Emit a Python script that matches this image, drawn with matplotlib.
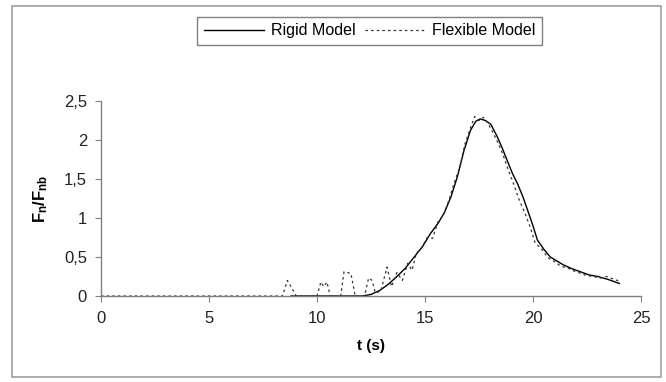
#!/usr/bin/env python3
"""Normal force ratio Fn/Fnb over time for the rigid and flexible models."""

import matplotlib
matplotlib.use('Agg')
import matplotlib.pyplot as plt
from matplotlib.patches import Rectangle

# Rigid model (solid line)
rigid_t = [8.8, 10.0, 11.0, 12.1, 12.5, 12.9, 13.3, 13.7, 14.1, 14.5, 14.9,
           15.25, 15.6, 15.9, 16.2, 16.5, 16.8, 17.1, 17.35, 17.55, 17.8,
           18.05, 18.35, 18.6, 18.8, 19.05, 19.3, 19.55, 19.75, 20.0, 20.2,
           20.5, 20.8, 21.1, 21.4, 21.8, 22.2, 22.6, 23.0, 23.5, 24.0]
rigid_y = [0.0, 0.0, 0.0, 0.0, 0.02, 0.07, 0.15, 0.25, 0.36, 0.50, 0.64,
           0.80, 0.93, 1.07, 1.27, 1.53, 1.86, 2.12, 2.24, 2.27, 2.25,
           2.20, 2.04, 1.88, 1.74, 1.57, 1.43, 1.26, 1.10, 0.90, 0.72,
           0.60, 0.50, 0.45, 0.40, 0.35, 0.31, 0.27, 0.25, 0.21, 0.16]

# Flexible model (dotted line)
flex_t = [0.0, 8.4, 8.63, 9.04, 10.0, 10.18, 10.32, 10.46, 10.61, 11.1,
          11.25, 11.57, 11.77, 12.2, 12.39, 12.55, 12.7, 12.95, 13.24, 13.45,
          13.7, 13.95, 14.2, 14.4, 14.6, 14.85, 15.1, 15.35, 15.6, 15.85,
          16.1, 16.35, 16.6, 16.85, 17.1, 17.3, 17.5, 17.7, 17.9, 18.1,
          18.35, 18.6, 18.85, 19.1, 19.35, 19.6, 19.85, 20.1, 20.4, 20.7,
          21.0, 21.3, 21.6, 21.9, 22.2, 22.5, 22.8, 23.1, 23.4, 23.7, 24.0]
flex_y = [0.0, 0.0, 0.20, 0.0, 0.0, 0.18, 0.12, 0.18, 0.0, 0.0,
          0.31, 0.29, 0.0, 0.0, 0.23, 0.20, 0.04, 0.06, 0.37, 0.12,
          0.30, 0.20, 0.42, 0.33, 0.55, 0.62, 0.75, 0.74, 0.95, 1.04,
          1.22, 1.45, 1.64, 1.95, 2.15, 2.30, 2.25, 2.29, 2.22, 2.12,
          1.98, 1.82, 1.62, 1.44, 1.24, 1.08, 0.90, 0.68, 0.60, 0.49,
          0.44, 0.38, 0.36, 0.32, 0.29, 0.26, 0.25, 0.23, 0.25, 0.22, 0.19]

x_ticks = [0, 5, 10, 15, 20, 25]
x_tick_labels = ['0', '5', '10', '15', '20', '25']
y_ticks = [0, 0.5, 1, 1.5, 2, 2.5]
y_tick_labels = ['0', '0,5', '1', '1,5', '2', '2,5']


def main():
    plt.rcParams['font.family'] = ['Liberation Sans', 'DejaVu Sans']
    plt.rcParams['mathtext.fontset'] = 'custom'
    plt.rcParams['mathtext.rm'] = 'Liberation Sans'
    plt.rcParams['mathtext.bf'] = 'Liberation Sans:bold'

    W, H = 666, 382
    fig = plt.figure(figsize=(W / 100, H / 100), dpi=100)
    ax = fig.add_axes([101 / W, 1 - 296 / H, 540 / W, 195 / H])

    # Outer chart border
    fig.patches.append(Rectangle((12 / W, 1 - 377 / H), 649 / W, 371 / H,
                                 transform=fig.transFigure, fill=False,
                                 edgecolor='#a0a0a0', linewidth=1.2))

    ax.plot(rigid_t, rigid_y, color='black', linewidth=1.0, label='Rigid Model')
    ax.plot(flex_t, flex_y, color='#333333', linewidth=0.9,
            linestyle=(0, (2, 2.5)), label='Flexible Model')

    ax.set_xlim(0, 25)
    ax.set_ylim(0, 2.5)
    ax.set_xticks(x_ticks)
    ax.set_xticklabels(x_tick_labels)
    ax.set_yticks(y_ticks)
    ax.set_yticklabels(y_tick_labels)

    for side in ['top', 'right']:
        ax.spines[side].set_visible(False)
    for side in ['left', 'bottom']:
        ax.spines[side].set_color('#808080')
        ax.spines[side].set_linewidth(1.0)
    ax.tick_params(axis='both', direction='out', length=4, width=0.8,
                   color='#808080', labelsize=12, labelcolor='#222222')
    ax.tick_params(axis='x', pad=7)
    ax.tick_params(axis='y', pad=6)

    ax.set_xlabel('t (s)', fontsize=11, fontweight='bold', labelpad=9)
    ax.set_ylabel(r'$\mathbf{F_n/F_{nb}}$', fontsize=12, labelpad=10)

    fig.legend(loc='upper center', bbox_to_anchor=(369.5 / W, 1 - 9 / H),
               ncol=2, frameon=True, fancybox=False, edgecolor='#606060',
               fontsize=11.5, handlelength=3.8, handletextpad=0.4,
               columnspacing=0.6, borderpad=0.4)

    fig.savefig('out.png', dpi=100)
    plt.close(fig)


if __name__ == '__main__':
    main()
